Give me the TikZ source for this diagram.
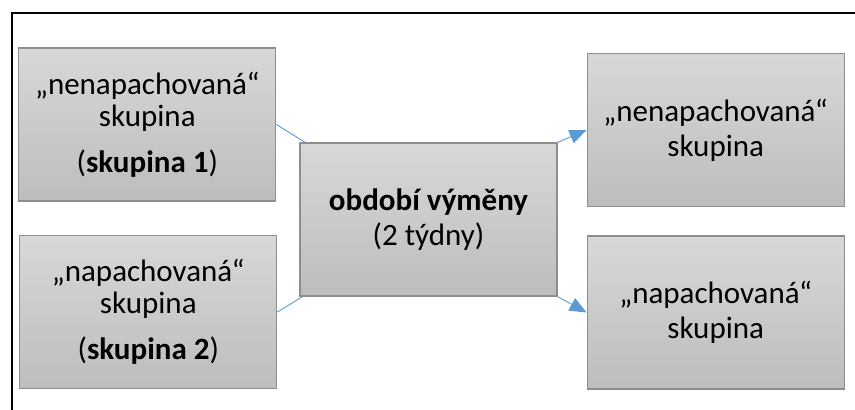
\documentclass[tikz,border=0pt]{standalone}
\usepackage{fontspec}
\setmainfont{Carlito}
\usetikzlibrary{positioning, arrows.meta}

\definecolor{boxline}{HTML}{8E8E8E}
\definecolor{boxtop}{HTML}{D8D8D8}
\definecolor{boxbottom}{HTML}{BDBDBD}
\definecolor{linkblue}{HTML}{5B9BD5}

\begin{document}
\begin{tikzpicture}[
        x=1pt, y=-1pt,
        box/.style={draw=boxline, line width=1.2pt, top color=boxtop, bottom color=boxbottom, minimum width=257pt, minimum height=153pt, inner sep=0pt, align=center, font=\fontsize{31}{32}\selectfont},
        link/.style={draw=linkblue, line width=0.9pt},
        arrow/.style={link, -{Triangle[length=17pt, width=14pt]}}
    ]
    \useasboundingbox (0,0) rectangle (855,410);

    % ramecek
    \draw[line width=1.5pt] (12,410) -- (12,13) -- (855,13);

    % skupiny
    \node (exchange) [box] at (428.5,219.5) {\textbf{období výměny}\\[3pt](2 týdny)};

    \node (group1) [box, left=23pt of exchange, yshift=95pt] {„nenapachovaná“\\skupina\\[14pt](\textbf{skupina 1})};

    \node (group2) [box, left=22pt of exchange, yshift=-92.5pt] {„napachovaná“\\skupina\\[14pt](\textbf{skupina 2})};

    \node (result1) [box, right=29pt of exchange, yshift=89.5pt] {„nenapachovaná“\\[3pt]skupina};

    \node (result2) [box, right=29pt of exchange, yshift=-93pt] {„napachovaná“\\[3pt]skupina};

    % spojnice
    \draw[link] (group1.east) -- (exchange);
    \draw[link] (group2.east) -- (exchange);
    \draw[arrow] (exchange.north east) -- (result1.west);
    \draw[arrow] (exchange.south east) -- (result2.west);

\end{tikzpicture}
\end{document}
